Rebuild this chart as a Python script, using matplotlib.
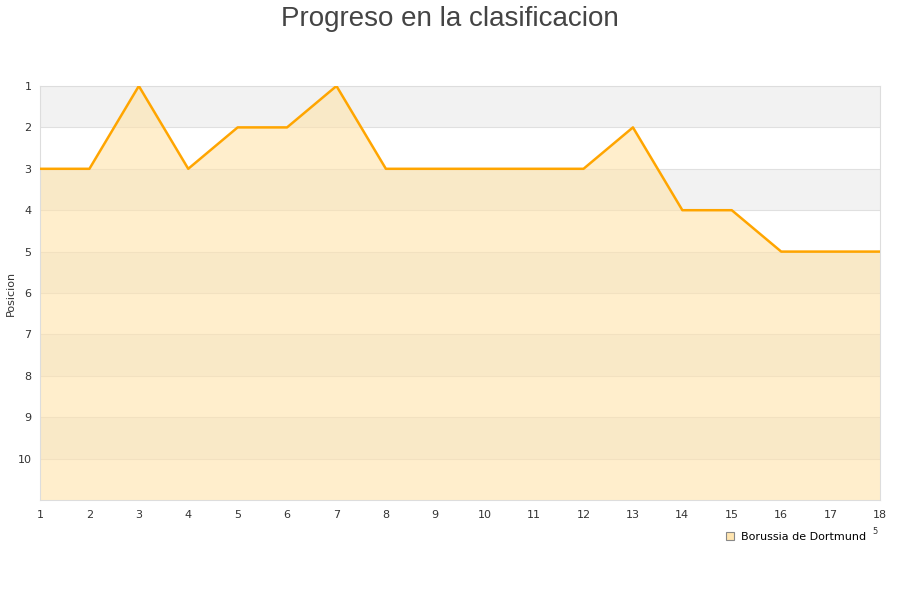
import numpy as np
import matplotlib.pyplot as plt
from matplotlib.lines import Line2D

# ------------------------------------
# Data
# ------------------------------------
jornadas = list(range(1, 19))
posicion = [3, 3, 1, 3, 2, 2, 1, 3, 3, 3, 3, 3, 2, 4, 4, 5, 5, 5]
equipo = "Borussia de Dortmund"

# ------------------------------------
# Figure
# ------------------------------------
fig = plt.figure(figsize=(9, 6), dpi=100)
ax = fig.add_axes([40 / 900, 100 / 600, 840 / 900, 414 / 600])

# alternating bands
for y0 in range(1, 11, 2):
    ax.axhspan(y0, y0 + 1, color='#f2f2f2', zorder=0, lw=0)
for y in range(2, 11):
    ax.axhline(y, color='#e0e0e0', lw=0.8, zorder=1)

# area + line
ax.fill_between(jornadas, posicion, 11, color='#ffe3ab', alpha=0.6, lw=0, zorder=2)
ax.plot(jornadas, posicion, color='#ffa500', lw=1.8, zorder=3)

ax.set_xlim(1, 18)
ax.set_ylim(11, 1)
ax.set_xticks(jornadas)
ax.set_yticks(range(1, 11))
ax.tick_params(axis='x', length=0, labelsize=8, colors='#333333', pad=7)
ax.tick_params(axis='y', length=0, labelsize=8, colors='#333333', pad=6)
for s in ax.spines.values():
    s.set_color('#dddddd')
    s.set_linewidth(0.8)

fig.text(11 / 900, 1 - 293 / 600, "Posicion", fontsize=8, color='#333333',
         rotation=90, ha='center', va='center')

fig.suptitle("Progreso en la clasificacion", fontsize=20, color='#444444',
             family='Liberation Sans', y=0.99)

# legend
handle = Line2D([], [], marker='s', ls='', markersize=6,
                markerfacecolor='#ffe5b0', markeredgecolor='#888888', markeredgewidth=0.8)
fig.legend([handle], [equipo], loc='center', bbox_to_anchor=(795 / 900, 1 - 537 / 600),
           frameon=False, fontsize=8, handletextpad=0.5, handlelength=1)
fig.text(875 / 900, 1 - 532 / 600, "5", fontsize=6, color='#333333', ha='center', va='center')

fig.savefig("out.png", dpi=100)
